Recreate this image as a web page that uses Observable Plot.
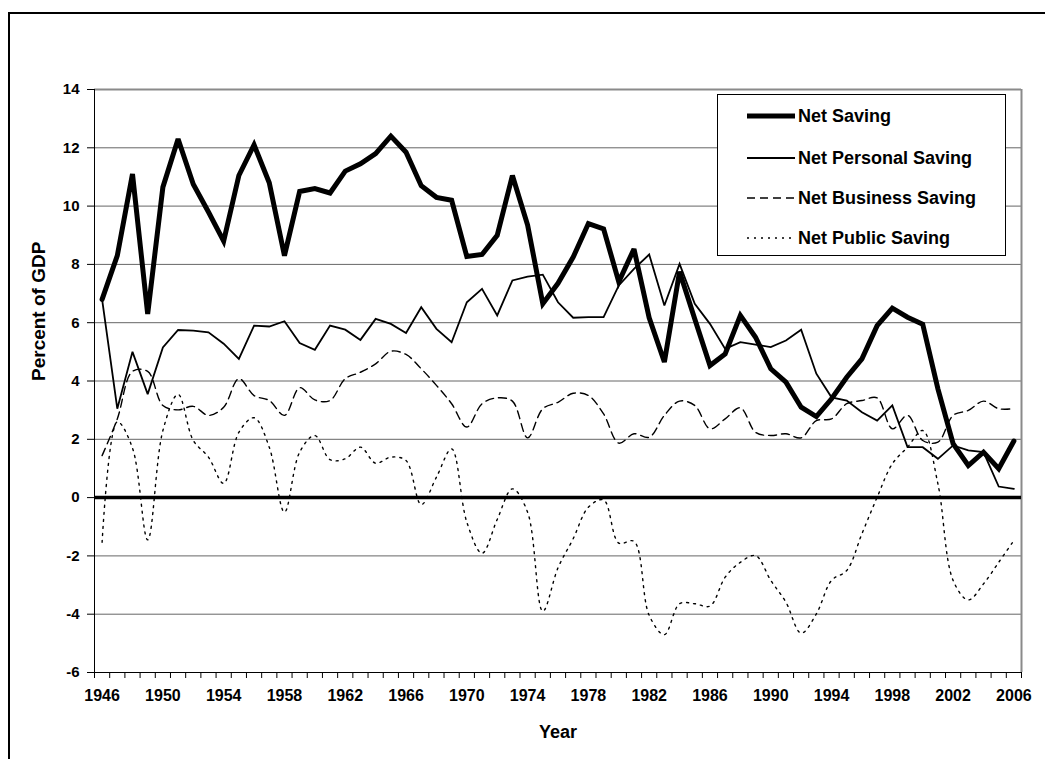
<!DOCTYPE html>
<html><head><meta charset="utf-8">
<script src="https://cdn.jsdelivr.net/npm/d3@7"></script>
<script src="https://cdn.jsdelivr.net/npm/@observablehq/plot@0.6"></script>
<style>
body{margin:0;background:#fff;font-family:"Liberation Sans",Arial,sans-serif;}
#wrap{position:relative;width:1045px;height:759px;overflow:hidden;}
#frame{position:absolute;left:8px;top:12px;width:1100px;height:900px;border:2px solid #000;box-sizing:border-box;pointer-events:none;}
#legend{position:absolute;left:717px;top:94px;width:289px;height:162px;border:1px solid #000;background:#fff;box-sizing:border-box;}
.row{position:absolute;left:28px;height:24px;display:flex;align-items:center;font-weight:bold;font-size:18px;color:#000;white-space:nowrap;}
.row svg{margin-right:2px;}
</style></head>
<body><div id="wrap"><div id="chart"></div><div id="frame"></div><div id="legend"></div></div>
<script>
const years = d3.range(1946, 2007);
const seriesNames = ["Net Saving", "Net Personal Saving", "Net Business Saving", "Net Public Saving"];
const netSaving = [6.8, 8.3, 11.1, 6.3, 10.65, 12.3, 10.75, 9.8, 8.8, 11.05,
  12.1, 10.8, 8.3, 10.5, 10.6, 10.45, 11.2, 11.45, 11.8, 12.4,
  11.85, 10.7, 10.3, 10.2, 8.27, 8.34, 9.0, 11.05, 9.35, 6.65,
  7.35, 8.25, 9.4, 9.22, 7.4, 8.53, 6.17, 4.65, 7.75, 6.13,
  4.53, 4.93, 6.25, 5.5, 4.42, 3.96, 3.1, 2.78, 3.39, 4.13,
  4.76, 5.9, 6.5, 6.19, 5.95, 3.73, 1.85, 1.1, 1.56, 0.99, 1.94];
const netPersonal = [6.8, 3.05, 5.0, 3.55, 5.15, 5.75, 5.73, 5.67, 5.28, 4.76,
  5.9, 5.87, 6.05, 5.3, 5.07, 5.9, 5.76, 5.41, 6.13, 5.96,
  5.65, 6.53, 5.79, 5.33, 6.7, 7.16, 6.25, 7.45, 7.58, 7.65,
  6.7, 6.17, 6.19, 6.19, 7.28, 7.85, 8.34, 6.59, 8.02, 6.65,
  5.96, 5.1, 5.33, 5.25, 5.16, 5.39, 5.76, 4.25, 3.44, 3.33,
  2.93, 2.64, 3.16, 1.73, 1.73, 1.33, 1.79, 1.62, 1.56, 0.38, 0.3];
const netBusiness = [1.44, 2.7, 4.33, 4.33, 3.16, 3.01, 3.13, 2.82, 3.1, 4.08,
  3.5, 3.33, 2.82, 3.77, 3.35, 3.33, 4.08, 4.3, 4.59, 5.02,
  4.91, 4.42, 3.85, 3.22, 2.42, 3.22, 3.42, 3.31, 2.05, 3.05,
  3.27, 3.58, 3.5, 2.87, 1.87, 2.19, 2.07, 2.82, 3.31, 3.16,
  2.36, 2.7, 3.08, 2.24, 2.13, 2.19, 2.05, 2.64, 2.7, 3.22,
  3.33, 3.42, 2.36, 2.82, 1.96, 1.9, 2.82, 2.99, 3.31, 3.05, 3.05];
const netPublic = [-1.53, 2.6, 1.7, -1.45, 2.3, 3.54, 1.96, 1.39, 0.49, 2.24,
  2.74, 1.73, -0.5, 1.56, 2.13, 1.3, 1.33, 1.73, 1.18, 1.39,
  1.27, -0.24, 0.7, 1.67, -0.84, -1.91, -0.75, 0.3, -0.5, -3.9,
  -2.41, -1.41, -0.33, -0.08, -1.56, -1.5, -4.04, -4.7, -3.64, -3.64,
  -3.72, -2.73, -2.22, -1.99, -2.84, -3.59, -4.65, -3.99, -2.84, -2.5,
  -1.24, 0.01, 1.16, 1.73, 2.3, 0.47, -2.84, -3.51, -2.96, -2.22, -1.47];
const yTicks = [-6, -4, -2, 0, 2, 4, 6, 8, 10, 12, 14];
const xLabelYears = [1946, 1950, 1954, 1958, 1962, 1966, 1970, 1974, 1978, 1982, 1986, 1990, 1994, 1998, 2002, 2006];

const styles = [
  {strokeWidth: 5, strokeDasharray: null, curve: "linear"},
  {strokeWidth: 1.8, strokeDasharray: null, curve: "linear"},
  {strokeWidth: 1.4, strokeDasharray: "8,5", curve: "catmull-rom"},
  {strokeWidth: 1.4, strokeDasharray: "2,5", curve: "catmull-rom"}
];
const allValues = [netSaving, netPersonal, netBusiness, netPublic];
const rows = years.map((yr, i) => ({year: yr, values: allValues.map(a => a[i])}));

const xMin = years[0] - 0.5, xMax = years[years.length - 1] + 0.5;
const tickBounds = d3.range(xMin, xMax + 0.01, 1);
const grid = yTicks.filter(v => v !== yTicks[0] && v !== 0 && v !== yTicks[yTicks.length - 1]);

const lineMarks = [3, 2, 1, 0].map(k => Plot.line(rows, {
  x: "year", y: d => d.values[k], stroke: "#000",
  strokeWidth: styles[k].strokeWidth, strokeDasharray: styles[k].strokeDasharray,
  curve: styles[k].curve, strokeLinejoin: "miter", strokeMiterlimit: 3
}));

const chart = Plot.plot({
  width: 1045, height: 759,
  marginLeft: 94, marginRight: 24, marginTop: 89, marginBottom: 87,
  x: {domain: [xMin, xMax]},
  y: {domain: [yTicks[0], yTicks[yTicks.length - 1]]},
  style: {fontFamily: "'Liberation Sans', Arial, sans-serif", fontWeight: "bold", fontSize: "15px", background: "transparent"},
  marks: [
    Plot.ruleY(grid, {stroke: "#666", strokeWidth: 1}),
    Plot.ruleY([yTicks[yTicks.length - 1]], {stroke: "#8a8a8a", strokeWidth: 2}),
    Plot.ruleX([xMax], {stroke: "#8a8a8a", strokeWidth: 2}),
    Plot.axisY({ticks: yTicks, tickSize: 7, tickFormat: () => "", label: null, stroke: "#000"}),
    Plot.axisX({ticks: tickBounds, tickSize: 6, tickFormat: () => "", label: null}),
    Plot.text(yTicks, {y: d => d, frameAnchor: "left", dx: -15, textAnchor: "end", fontSize: 15, fontWeight: "bold", fill: "#000", text: d => String(d)}),
    Plot.text(xLabelYears, {x: d => d, frameAnchor: "bottom", dy: 28, fontSize: 16, fontWeight: "bold", fill: "#000", text: d => String(d)}),
    Plot.ruleX([xMin], {stroke: "#000", strokeWidth: 1}),
    Plot.ruleY([yTicks[0]], {stroke: "#000", strokeWidth: 1}),
    Plot.ruleY([0], {stroke: "#000", strokeWidth: 3.5}),
    ...lineMarks,
    Plot.text(["Year"], {frameAnchor: "bottom", dy: 65, fontSize: 18, fontWeight: "bold", fill: "#000"}),
    Plot.text(["Percent of GDP"], {frameAnchor: "left", dx: -56, rotate: -90, fontSize: 19, fontWeight: "bold", fill: "#000"})
  ]
});
document.getElementById("chart").appendChild(chart);

// legend
const legend = d3.select("#legend");
const rowTops = [9, 51, 91, 131];
seriesNames.forEach((name, k) => {
  const r = legend.append("div").attr("class", "row").style("top", rowTops[k] + "px");
  const s = r.append("svg").attr("width", 50).attr("height", 12);
  s.append("line").attr("x1", 1).attr("x2", 49).attr("y1", 6).attr("y2", 6)
    .attr("stroke", "#000").attr("stroke-width", styles[k].strokeWidth)
    .attr("stroke-dasharray", styles[k].strokeDasharray);
  r.append("span").text(name);
});
</script></body></html>
